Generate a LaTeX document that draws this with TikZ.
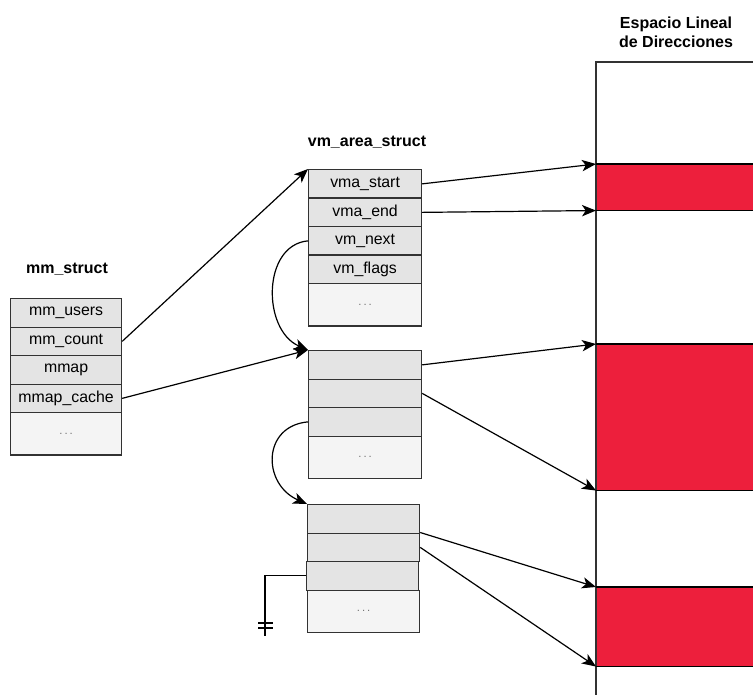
\documentclass[tikz,border=0pt]{standalone}
\usepackage{fontspec}
\setmainfont{Liberation Sans}
\usetikzlibrary{arrows.meta}
\definecolor{segred}{RGB}{237,31,60}
\definecolor{rowgray}{RGB}{228,228,228}
\definecolor{restgray}{RGB}{244,244,244}
\definecolor{edgegray}{RGB}{50,50,50}

\begin{document}
\begin{tikzpicture}[x=0.75pt,y=-0.75pt,
  field/.style={draw=edgegray,line width=0.9pt,fill=rowgray,
    minimum width=#1,minimum height=21.4pt,inner sep=0pt,
    anchor=north west,font=\fontsize{11.9}{14}\selectfont},
  field/.default=84.75pt,
  rest/.style={field=#1,fill=restgray,minimum height=31.8pt,
    font=\fontsize{8.5}{10}\selectfont\color{black!55}},
  rest/.default=84.75pt,
  title/.style={font=\fontsize{12}{14.5}\selectfont\bfseries,align=center},
  arr/.style={draw=black,line width=0.9pt,
    -{Stealth[length=10.5pt,width=8.5pt,inset=2.8pt]}},
  segment/.style={fill=segred,draw=none,minimum width=117.75pt,
    inner sep=0pt,anchor=north west},
  ]
\useasboundingbox (0,0) rectangle (753,695);

% mm_struct
\node[title] (tmm) at (67,269) {mm\_struct};
\node[field=83.25pt] (mmu) at (10,298)   {mm\_users};
\node[field=83.25pt] (mmc) at (10,326.5) {mm\_count};
\node[field=83.25pt] (mmp) at (10,355)   {mmap};
\node[field=83.25pt] (mmk) at (10,383.5) {mmap\_cache};
\node[rest=83.25pt]  (mmr) at (10,412)   {.\,.\,.};

% first vm_area_struct
\node[title] (tvm) at (367,142) {vm\_area\_struct};
\node[field] (v1) at (308,169)   {vma\_start};
\node[field] (v2) at (308,197.5) {vma\_end};
\node[field] (v3) at (308,226)   {vm\_next};
\node[field] (v4) at (308,254.5) {vm\_flags};
\node[rest]  (v5) at (308,283)   {.\,.\,.};

% second vm_area_struct
\node[field] (m1) at (308,350)   {};
\node[field] (m2) at (308,378.5) {};
\node[field] (m3) at (308,407)   {};
\node[rest]  (m4) at (308,435.5) {.\,.\,.};

% third vm_area_struct
\node[field=84pt] (b1) at (307,504)   {};
\node[field=84pt] (b2) at (307,532.5) {};
\node[field=84pt] (b3) at (306,561)   {};
\node[rest=84pt]  (b4) at (307,589.5) {.\,.\,.};

% linear address space
\node[title] (tas) at (676,32) {Espacio Lineal\\de Direcciones};
\node[segment,minimum height=34.5pt]  (r1) at (596,164) {};
\node[segment,minimum height=109.5pt] (r2) at (596,344) {};
\node[segment,minimum height=59.25pt] (r3) at (596,587) {};
\coordinate (top) at (596,62);
\coordinate (topr) at (753,62);
\coordinate (bot) at (596,695);
\draw[edgegray,line width=0.8pt] (topr) -- (top) -- (bot);
\foreach \r in {r1,r2,r3}
  \draw[black,line width=0.9pt] (\r.north west) -- (\r.north east)
    (\r.south west) -- (\r.south east);

% pointers
\draw[arr] (mmc.east) -- (v1.north west);
\draw[arr] (mmk.east) -- (m1.north west);
\draw[arr] (v1.east) -- (r1.north west);
\draw[arr] (v2.east) -- (r1.south west);
\draw[arr] (m1.east) -- (r2.north west);
\draw[arr] (m2.east) -- (r2.south west);
\draw[arr] (b2.north east) -- (r3.north west);
\draw[arr] (b2.east) -- (r3.south west);

% vm_next chain
\draw[arr] (v3.west) .. controls (262,245) and (262,330) .. (m1.north west);
\draw[arr] (m3.west) .. controls (262,426) and (262,484) .. (b1.north west);

% null terminator
\coordinate (gnd) at (265,636);
\coordinate (t1l) at (258,623);
\coordinate (t1r) at (273,623);
\coordinate (t2l) at (258,628);
\coordinate (t2r) at (273,628);
\draw[black,line width=0.9pt] (b3.west) -| (gnd);
\draw[black,line width=0.9pt] (t1l) -- (t1r) (t2l) -- (t2r);
\end{tikzpicture}
\end{document}
